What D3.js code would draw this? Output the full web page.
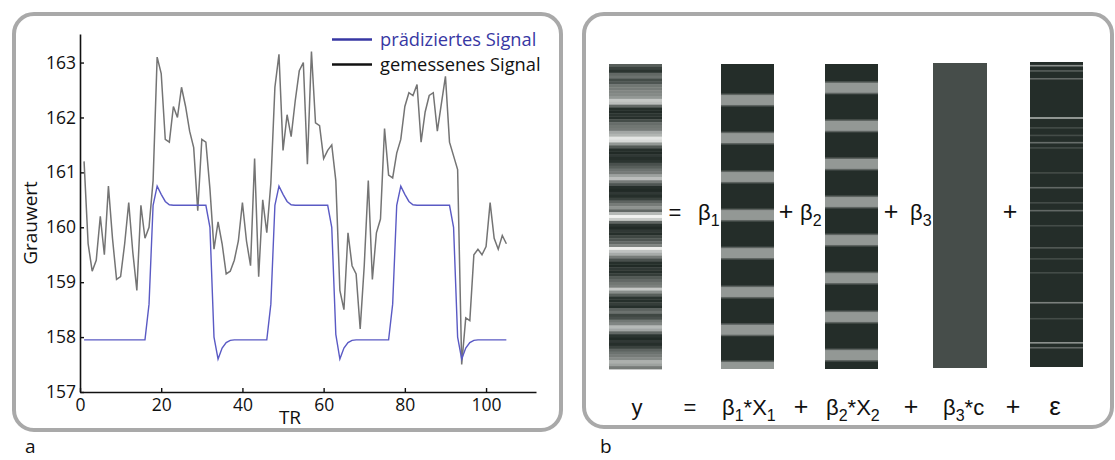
<!DOCTYPE html>
<html>
<head>
<meta charset="utf-8">
<script src="https://cdn.jsdelivr.net/npm/d3@7"></script>
<style>
  body { margin: 0; background: #fff; }
  svg { display: block; }
</style>
</head>
<body>
<div id="chart"></div>
<script>
// ---- panel a : signal per TR (TR = 1..105) ----
var predicted = [
  157.95,157.95,157.95,157.95,157.95,157.95,157.95,157.95,157.95,157.95,157.95,157.95,157.95,157.95,157.95,157.95,
  158.6,160.4,160.75,160.6,160.47,160.41,160.4,160.4,160.4,160.4,160.4,160.4,160.4,160.4,160.4,
  160.0,158.0,157.6,157.8,157.9,157.94,157.95,157.95,157.95,157.95,157.95,157.95,157.95,157.95,157.95,
  158.6,160.4,160.75,160.6,160.47,160.41,160.4,160.4,160.4,160.4,160.4,160.4,160.4,160.4,160.4,
  160.0,158.05,157.6,157.8,157.9,157.94,157.95,157.95,157.95,157.95,157.95,157.95,157.95,157.95,157.95,
  158.6,160.4,160.75,160.6,160.47,160.41,160.4,160.4,160.4,160.4,160.4,160.4,160.4,160.4,160.4,
  160.0,158.0,157.6,157.8,157.9,157.94,157.95,157.95,157.95,157.95,157.95,157.95,157.95,157.95
];
var measured = [
  161.2,159.7,159.2,159.4,160.2,159.5,160.75,159.8,159.05,159.1,
  159.7,160.45,159.55,158.85,160.4,159.8,160.0,160.85,163.1,162.8,
  161.6,161.55,162.2,162.0,162.55,162.2,161.75,161.45,160.3,161.6,
  161.55,160.7,159.6,160.1,159.7,159.15,159.2,159.4,159.75,160.45,
  159.75,159.3,161.25,159.1,160.5,159.9,160.8,162.55,163.15,161.4,
  162.05,161.65,162.3,162.85,163.0,161.15,163.2,161.9,161.85,161.25,
  161.4,161.5,160.85,158.85,158.5,159.9,159.3,159.15,158.15,159.3,
  160.85,159.05,159.9,160.15,161.8,160.95,160.9,161.35,161.6,162.2,
  162.45,162.4,162.6,161.55,162.1,162.4,162.45,161.75,162.25,162.75,
  161.55,161.3,161.05,157.5,158.35,158.3,159.5,159.6,159.5,159.65,
  160.45,159.8,159.6,159.85,159.7
];
var xTicks = [0, 20, 40, 60, 80, 100];
var yTicks = [157, 158, 159, 160, 161, 162, 163];
var legendLabels = ["prädiziertes Signal", "gemessenes Signal"];

// ---- panel b : image columns, rows = scans 0..105 ----
var yRows = [
  90,60,45,100,110,70,80,115,120,130,135,150,200,190,100,40,35,45,40,70,
  105,115,120,165,180,230,220,150,85,40,35,50,40,45,75,90,110,120,160,190,
  120,80,40,35,50,40,60,95,120,145,100,185,245,205,100,45,35,50,40,65,
  80,100,130,240,195,170,120,75,40,35,50,40,55,85,100,115,125,200,140,90,
  45,40,55,40,95,110,65,75,115,130,185,165,100,45,35,50,40,60,95,110,
  120,135,175,160,120
];
var x1Bands = [10.7, 23.8, 37.2, 50.3, 63.4, 76.8, 89.8, 102.6];
var x2Bands = [6.5, 19.6, 32.7, 45.8, 58.9, 72.0, 85.4, 98.5];
var bandLength = 3.4;
var cLevel = 72;
var epsLines = [[1,140],[2.8,90],[5.5,100],[19,175],[22.4,70],[25,70],[27.5,105],[29.3,70],
  [37.9,70],[43,100],[48.2,70],[50.9,100],[56.1,70],[63.7,85],[67.5,70],[72.3,70],
  [82.6,125],[88.1,70],[96.4,145],[98.1,100]];

var W = 1115, H = 460;
var svg = d3.select("#chart").append("svg").attr("width", W).attr("height", H);

// frames
svg.append("rect").attr("x", 14).attr("y", 14).attr("width", 547).attr("height", 416)
  .attr("rx", 20).attr("fill", "none").attr("stroke", "#a9a9a9").attr("stroke-width", 4);
svg.append("rect").attr("x", 584).attr("y", 14).attr("width", 528).attr("height", 413)
  .attr("rx", 20).attr("fill", "none").attr("stroke", "#a9a9a9").attr("stroke-width", 4);

svg.append("text").attr("x", 25).attr("y", 453).text("a")
  .attr("font-family", "Open Sans").attr("font-size", 19).attr("fill", "#111");
svg.append("text").attr("x", 600).attr("y", 453).text("b")
  .attr("font-family", "Open Sans").attr("font-size", 19).attr("fill", "#111");

// ---- panel a ----
var x = d3.scaleLinear().domain([0, 112.3]).range([80, 536]);
var y = d3.scaleLinear().domain([157, 163.52]).range([392, 34]);

var gA = svg.append("g").attr("font-family", "Open Sans");

var xAxis = gA.append("g").attr("transform", "translate(0," + y(157) + ")")
  .call(d3.axisBottom(x).tickValues(xTicks).tickFormat(d3.format("d"))
    .tickSize(-4).tickSizeOuter(0).tickPadding(7));
var yAxis = gA.append("g").attr("transform", "translate(" + x(0) + ",0)")
  .call(d3.axisLeft(y).tickValues(yTicks).tickFormat(d3.format("d"))
    .tickSize(-4).tickSizeOuter(0).tickPadding(4));
[xAxis, yAxis].forEach(function (a) {
  a.select(".domain").attr("stroke", "#111").attr("stroke-width", 1.6);
  a.selectAll(".tick line").attr("stroke", "#111").attr("stroke-width", 1.4);
  a.selectAll(".tick text").attr("font-family", "Open Sans").attr("font-size", 17.5).attr("fill", "#111");
});

gA.append("text").attr("x", 290).attr("y", 424).attr("text-anchor", "middle")
  .attr("font-size", 19).attr("fill", "#111").text("TR");
gA.append("text").attr("transform", "translate(37,223) rotate(-90)").attr("text-anchor", "middle")
  .attr("font-size", 19).attr("fill", "#111").text("Grauwert");

var line = d3.line().x(function (d, i) { return x(i + 1); }).y(function (d) { return y(d); });

gA.append("path").datum(measured).attr("d", line)
  .attr("fill", "none").attr("stroke", "#747474").attr("stroke-width", 1.5);
gA.append("path").datum(predicted).attr("d", line)
  .attr("fill", "none").attr("stroke", "#5a5ac4").attr("stroke-width", 1.4);

// legend
var legColors = ["#3737a3", "#111"];
legendLabels.forEach(function (l, i) {
  var ly = 39.5 + i * 25;
  gA.append("line").attr("x1", 332).attr("x2", 372).attr("y1", ly).attr("y2", ly)
    .attr("stroke", legColors[i]).attr("stroke-width", 2.4);
  gA.append("text").attr("x", 380).attr("y", ly + 6).attr("font-size", 18.3)
    .attr("fill", legColors[i]).text(l);
});

// ---- panel b ----
var gB = svg.append("g");
var row = d3.scaleLinear().domain([0, 105]).range([64, 369]);
var gray = d3.scaleLinear().domain([35, 245]).range(["#212a26", "#f2f3f1"]);
var colW = 53;
var colX = { y: 609, x1: 721, x2: 825, c: 933, eps: 1030 };

// y column
gB.append("g").selectAll("rect").data(yRows).enter().append("rect")
  .attr("x", colX.y).attr("width", colW)
  .attr("y", function (d, i) { return row(i); })
  .attr("height", function (d, i) { return row(i + 1) - row(i) + 0.4; })
  .attr("fill", function (d) { return gray(d); });

// regressors
function bands(cx, data) {
  var g = gB.append("g");
  g.append("rect").attr("x", cx).attr("width", colW).attr("y", row(0))
    .attr("height", row(105) - row(0)).attr("fill", gray(38));
  g.selectAll("rect.edge").data(data).enter().append("rect").attr("class", "edge")
    .attr("x", cx).attr("width", colW)
    .attr("y", function (d) { return row(d) - 1.5; })
    .attr("height", function (d) { return row(Math.min(d + bandLength, 105)) - row(d) + (d + bandLength > 105 ? 1.5 : 3); })
    .attr("fill", gray(95));
  g.selectAll("rect.core").data(data).enter().append("rect").attr("class", "core")
    .attr("x", cx).attr("width", colW)
    .attr("y", function (d) { return row(d); })
    .attr("height", function (d) { return row(Math.min(d + bandLength, 105)) - row(d); })
    .attr("fill", gray(150));
}
bands(colX.x1, x1Bands);
bands(colX.x2, x2Bands);

// constant
gB.append("rect").attr("x", colX.c).attr("width", colW + 1).attr("y", row(0) - 1)
  .attr("height", row(105) - row(0)).attr("fill", gray(cLevel));

// residuals
gB.append("rect").attr("x", colX.eps).attr("width", colW).attr("y", row(0) - 2)
  .attr("height", row(105) - row(0)).attr("fill", gray(38));
gB.append("g").selectAll("rect").data(epsLines).enter().append("rect")
  .attr("x", colX.eps).attr("width", colW)
  .attr("y", function (d) { return row(d[0]) - 2; })
  .attr("height", 1.6)
  .attr("fill", function (d) { return gray(d[1]); });

// equation text
var gT = gB.append("g").attr("font-family", "Liberation Sans, Arial, sans-serif").attr("font-size", 22).attr("fill", "#111");
function term(xp, yp, parts, anchor) {
  var t = gT.append("text").attr("x", xp).attr("y", yp).attr("text-anchor", anchor || "start");
  parts.forEach(function (p) {
    var s = t.append("tspan").text(p[0]);
    if (p[1] === "sub") s.attr("font-size", 16).attr("dy", 6);
    if (p[1] === "up") s.attr("dy", -6);
  });
  return t;
}
// top row
term(675, 220, [["="]], "middle");
term(698, 220, [["β"], ["1", "sub"]]);
term(786, 220, [["+"]], "middle").attr("font-size", 25);
term(800, 220, [["β"], ["2", "sub"]]);
term(891, 220, [["+"]], "middle").attr("font-size", 25);
term(910, 220, [["β"], ["3", "sub"]]);
term(1010, 220, [["+"]], "middle").attr("font-size", 25);
// bottom row
term(637, 415, [["y"]], "middle");
term(690, 415, [["="]], "middle");
term(722, 415, [["β"], ["1", "sub"], ["*", "up"], ["X"], ["1", "sub"]]);
term(801, 415, [["+"]], "middle").attr("font-size", 25);
term(826, 415, [["β"], ["2", "sub"], ["*", "up"], ["X"], ["2", "sub"]]);
term(911, 415, [["+"]], "middle").attr("font-size", 25);
term(943, 415, [["β"], ["3", "sub"], ["*", "up"], ["c"]]);
term(1013, 415, [["+"]], "middle").attr("font-size", 25);
term(1055, 415, [["ε"]], "middle").attr("font-size", 26);
</script>
</body>
</html>
